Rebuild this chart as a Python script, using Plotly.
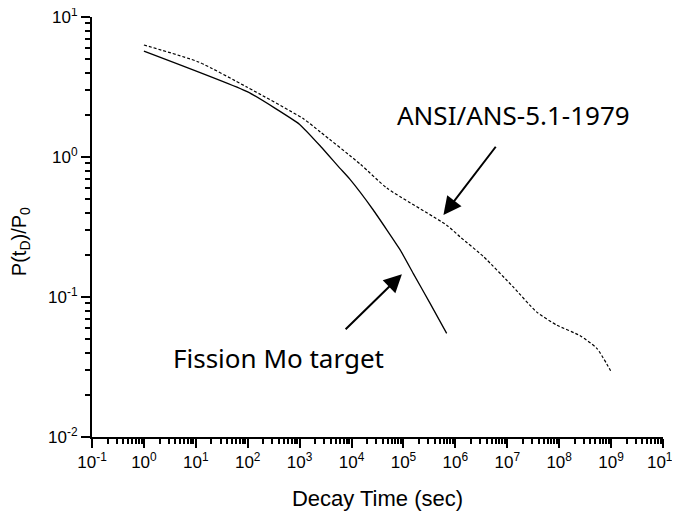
import plotly.graph_objects as go

# Fission Mo target (solid)
fission_t = [1, 100, 1000, 2600, 6000, 9100, 26000, 87000, 1.55e5, 3.26e5, 6.8e5]
fission_p = [5.71, 2.92, 1.71, 1.18, 0.83, 0.70, 0.42, 0.216, 0.147, 0.090, 0.055]

# ANSI/ANS-5.1-1979 (dashed)
ansi_t = [1, 11.3, 96, 1170, 2500, 14700, 48000, 6.8e5, 1.23e6, 3.5e6,
          1.3e7, 3.7e7, 9e7, 2.5e8, 5.3e8, 9.8e8]
ansi_p = [6.31, 4.77, 3.16, 1.88, 1.51, 0.89, 0.60, 0.326, 0.269, 0.194,
          0.118, 0.078, 0.063, 0.053, 0.043, 0.0297]

x_tickvals = [10.0 ** e for e in range(-1, 11)]
x_ticktext = ["10<sup>%d</sup>" % e for e in range(-1, 11)]
y_tickvals = [10.0 ** e for e in range(-2, 2)]
y_ticktext = ["10<sup>%d</sup>" % e for e in range(-2, 2)]

fig = go.Figure()
fig.add_trace(go.Scatter(x=fission_t, y=fission_p, mode="lines",
                         line=dict(color="black", width=1.3, shape="spline", smoothing=0.4),
                         name="Fission Mo target", showlegend=False))
fig.add_trace(go.Scatter(x=ansi_t, y=ansi_p, mode="lines",
                         line=dict(color="black", width=1.2, dash="3px,2px",
                                   shape="spline", smoothing=0.6),
                         name="ANSI/ANS-5.1-1979", showlegend=False))

tickfont = dict(family="Liberation Sans, Arial, sans-serif", size=17, color="black")
ann_font = dict(family="Noto Sans, Open Sans, sans-serif", size=26, color="black")

fig.update_xaxes(type="log", range=[-1, 10], tickvals=x_tickvals, ticktext=x_ticktext,
                 ticks="outside", ticklen=9, tickwidth=2, tickcolor="black",
                 showline=True, linecolor="black", linewidth=2, automargin=False,
                 ticklabeloverflow="allow",
                 showgrid=False, zeroline=False, tickfont=tickfont,
                 minor=dict(dtick="D1", ticks="outside", ticklen=5, tickwidth=1.5,
                            tickcolor="black", showgrid=False),
                 title=dict(text="Decay Time (sec)",
                            font=dict(family="Liberation Sans, Arial, sans-serif",
                                      size=22, color="black"),
                            standoff=24))
fig.update_yaxes(type="log", range=[-2, 1], tickvals=y_tickvals, ticktext=y_ticktext,
                 ticks="outside", ticklen=9, tickwidth=2, tickcolor="black",
                 showline=True, linecolor="black", linewidth=2, automargin=False,
                 ticklabeloverflow="allow",
                 showgrid=False, zeroline=False, tickfont=tickfont,
                 minor=dict(dtick="D1", ticks="outside", ticklen=5, tickwidth=1.5,
                            tickcolor="black", showgrid=False))

# y-axis title as annotation for precise placement
fig.add_annotation(xref="paper", yref="paper", x=-0.126, y=0.464,
                   xanchor="center", yanchor="middle",
                   text="P(t<sub>D</sub>)/P<sub>0</sub>", textangle=-90,
                   showarrow=False,
                   font=dict(family="Liberation Sans, Arial, sans-serif", size=20, color="black"))

# labels
fig.add_annotation(x=7.12, y=0.298, xref="x", yref="y", text="ANSI/ANS-5.1-1979",
                   showarrow=False, font=ann_font)
fig.add_annotation(x=2.593, y=-1.436, xref="x", yref="y", text="Fission Mo target",
                   showarrow=False, font=ann_font)

# arrows
fig.add_annotation(x=5.77, y=-0.415, xref="x", yref="y",
                   ax=6.80, ay=0.084, axref="x", ayref="y",
                   text="", showarrow=True, arrowhead=2, arrowsize=1.8,
                   arrowwidth=2, arrowcolor="black")
fig.add_annotation(x=4.97, y=-0.837, xref="x", yref="y",
                   ax=3.857, ay=-1.241, axref="x", ayref="y",
                   text="", showarrow=True, arrowhead=2, arrowsize=1.8,
                   arrowwidth=2, arrowcolor="black")

# page body has an 8px margin; size the figure so it fits the 680x511 window
fig.update_layout(width=672, height=503, paper_bgcolor="white", plot_bgcolor="white",
                  margin=dict(l=84, r=17, t=9, b=74), showlegend=False)

fig.write_html("out.html")
